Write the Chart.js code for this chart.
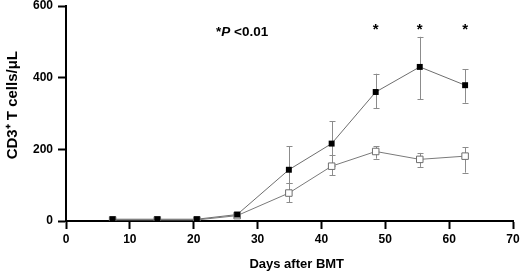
<!DOCTYPE html>
<html>
<head>
<meta charset="utf-8">
<script src="https://cdn.jsdelivr.net/npm/chart.js@4.4.1/dist/chart.umd.min.js"></script>
<style>
html,body{margin:0;padding:0;background:#fff;}
#wrap{width:520px;height:278px;position:relative;}
</style>
</head>
<body>
<div id="wrap"><canvas id="c" width="520" height="278"></canvas></div>
<script>
// Days after BMT
const days = [7.3, 14.3, 20.5, 26.8, 34.9, 41.6, 48.5, 55.4, 62.5];
// Filled squares series (CD3+ T cells/uL)
const filledMean = [5, 5, 5, 18, 143, 216, 360, 430, 379];
const filledUpper = [null, null, null, null, 209, 279, 411, 514, 423];
const filledLower = [null, null, null, null, 106, 153, 315, 340, 330];
// Open squares series
const openMean = [3, 3, 3, 15, 78, 153, 194, 172, 181];
const openUpper = [null, null, null, null, 106, 183, 208, 190, 206];
const openLower = [null, null, null, null, 53, 128, 174, 151, 135];
// Significance markers
const sigDays = [48.5, 55.4, 62.5];
const sigLevel = 534;
const noteText = ['*', 'P', ' <0.01'];
const noteX = 23.5, noteY = 526;
const xTicks = [0, 10, 20, 30, 40, 50, 60, 70];
const yTicks = [0, 200, 400, 600];

const toPts = (xs, ys) => xs.map((x, i) => ({x: x, y: ys[i]}));

const errorBars = {
  id: 'errorBars',
  beforeDatasetsDraw(chart) {
    const {ctx, scales: {x, y}} = chart;
    const sets = [[filledUpper, filledLower], [openUpper, openLower]];
    ctx.save();
    ctx.strokeStyle = '#8c8c8c';
    ctx.lineWidth = 1;
    sets.forEach(([up, lo]) => {
      days.forEach((d, i) => {
        if (up[i] == null) return;
        const px = Math.round(x.getPixelForValue(d)) + 0.5;
        const py1 = y.getPixelForValue(up[i]);
        const py2 = y.getPixelForValue(lo[i]);
        ctx.beginPath();
        ctx.moveTo(px, py1); ctx.lineTo(px, py2);
        ctx.moveTo(px - 3, Math.round(py1) + 0.5); ctx.lineTo(px + 3, Math.round(py1) + 0.5);
        ctx.moveTo(px - 3, Math.round(py2) + 0.5); ctx.lineTo(px + 3, Math.round(py2) + 0.5);
        ctx.stroke();
      });
    });
    ctx.restore();
  },
  afterDatasetsDraw(chart) {
    const {ctx, scales: {x, y}} = chart;
    ctx.save();
    ctx.fillStyle = '#000';
    ctx.textBaseline = 'middle';
    ctx.textAlign = 'center';
    ctx.font = 'bold 15px "Liberation Sans", Arial, sans-serif';
    sigDays.forEach(d => {
      ctx.fillText('*', x.getPixelForValue(d), y.getPixelForValue(sigLevel));
    });
    // note
    ctx.textAlign = 'left';
    let px = x.getPixelForValue(noteX);
    const py = y.getPixelForValue(noteY);
    const fonts = ['bold 13.5px "Liberation Sans", Arial, sans-serif',
                   'italic bold 13.5px "Liberation Sans", Arial, sans-serif',
                   'bold 13.5px "Liberation Sans", Arial, sans-serif'];
    noteText.forEach((t, i) => {
      ctx.font = fonts[i];
      ctx.fillText(t, px, py);
      px += ctx.measureText(t).width;
    });
    ctx.restore();
  }
};

const font = {family: '"Liberation Sans", Arial, sans-serif', size: 12, weight: 'bold'};

new Chart(document.getElementById('c'), {
  type: 'scatter',
  data: {
    datasets: [
      {
        label: 'filled',
        data: toPts(days, filledMean),
        showLine: true,
        borderColor: '#6e6e6e',
        borderWidth: 1,
        pointStyle: 'rect',
        pointRadius: 4.2,
        pointBackgroundColor: '#000',
        pointBorderColor: '#000',
        pointBorderWidth: 0
      },
      {
        label: 'open',
        data: toPts(days, openMean),
        showLine: true,
        borderColor: '#7a7a7a',
        borderWidth: 1,
        pointStyle: 'rect',
        pointRadius: 4.6,
        pointBackgroundColor: '#fff',
        pointBorderColor: '#6e6e6e',
        pointBorderWidth: 1
      }
    ]
  },
  options: {
    responsive: false,
    animation: false,
    events: [],
    layout: {padding: {left: 0, right: 7, top: 6, bottom: 0}},
    plugins: {legend: {display: false}, tooltip: {enabled: false}},
    scales: {
      x: {
        type: 'linear', min: 0, max: 70,
        afterBuildTicks: s => { s.ticks = xTicks.map(v => ({value: v})); },
        afterFit: s => { s.height = 57; s.paddingLeft = 0; s.paddingRight = 0; },
        grid: {display: true, drawOnChartArea: false, drawTicks: true, tickLength: 8, color: '#000', tickWidth: 2},
        border: {display: true, color: '#000', width: 2},
        ticks: {color: '#000', font: font, padding: 3, maxRotation: 0, autoSkip: false},
        title: {display: true, text: '    Days after BMT', color: '#000', font: {family: font.family, size: 13, weight: 'bold'}, padding: {top: 12, bottom: 6}}
      },
      y: {
        type: 'linear', min: 0, max: 600,
        afterBuildTicks: s => { s.ticks = yTicks.map(v => ({value: v})); },
        afterFit: s => { s.width = 66; s.paddingTop = 0; s.paddingBottom = 0; },
        grid: {display: true, drawOnChartArea: false, drawTicks: true, tickLength: 8, color: '#000', tickWidth: 2},
        border: {display: true, color: '#000', width: 2},
        ticks: {color: '#000', font: font, padding: 5},
        title: {display: true, text: '    CD3\u207A T cells/\u03BCL', color: '#000', font: {family: font.family, size: 15, weight: 'bold'}, padding: {top: 4, bottom: 0}}
      }
    }
  },
  plugins: [errorBars]
});
</script>
</body>
</html>
